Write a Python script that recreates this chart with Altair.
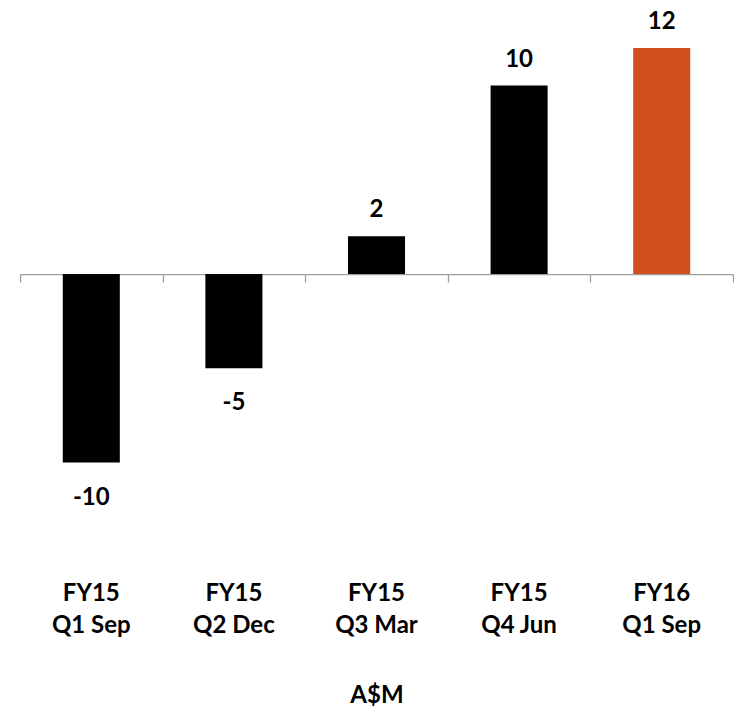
import altair as alt
import pandas as pd

# Quarterly figures (A$M); "|" splits each category label over two lines
quarters = ["FY15|Q1 Sep", "FY15|Q2 Dec", "FY15|Q3 Mar", "FY15|Q4 Jun", "FY16|Q1 Sep"]
values = [-10, -5, 2, 10, 12]
bar_colors = ["#000000", "#000000", "#000000", "#000000", "#D14F1D"]
# category boundaries (slot edges) where the axis tick marks sit
boundaries = [0, 1, 2, 3, 4, 5]

df = pd.DataFrame({"quarter": quarters, "value": values, "color": bar_colors})
# value labels use a plain hyphen for negatives
df["label"] = df["value"].map(lambda v: str(v))
edges = pd.DataFrame({"slot": boundaries})

W, H = 713, 560
Y_MIN, Y_MAX = -15.17, 14.54
AXIS_OFFSET = -(H - H * Y_MAX / (Y_MAX - Y_MIN))  # lift the x axis up to the zero line

FONT = "Lato"
FSIZE = 24
AXIS_GREY = "#9E9E9E"

y = alt.Y("value:Q", scale=alt.Scale(domain=[Y_MIN, Y_MAX], nice=False, zero=False), axis=None)

x_cat = alt.X(
    "quarter:N",
    sort=quarters,
    scale=alt.Scale(paddingInner=0.6, paddingOuter=0.3),
    axis=alt.Axis(
        title="A$M",
        orient="bottom",
        offset=AXIS_OFFSET,
        domain=False,
        ticks=False,
        grid=False,
        labelAngle=0,
        labelExpr="split(datum.label, '|')",
        labelFont=FONT,
        labelFontWeight="bold",
        labelFontSize=FSIZE,
        labelColor="#000000",
        labelLineHeight=32,
        labelBaseline="alphabetic",
        labelPadding=326,
        titleFont=FONT,
        titleFontWeight="bold",
        titleFontSize=FSIZE,
        titleColor="#000000",
        titleBaseline="alphabetic",
        titleY=428,
    ),
)

base = alt.Chart(df)

bars = base.mark_bar().encode(
    x=x_cat,
    y=y,
    y2=alt.datum(0),
    color=alt.Color("color:N", scale=None),
)

pos_labels = base.transform_filter("datum.value >= 0").mark_text(
    font=FONT, fontWeight="bold", fontSize=FSIZE, color="#000000",
    baseline="alphabetic", dy=-19,
).encode(x=alt.X("quarter:N", sort=quarters), y="value:Q", text="label:N")

neg_labels = base.transform_filter("datum.value < 0").mark_text(
    font=FONT, fontWeight="bold", fontSize=FSIZE, color="#000000",
    baseline="alphabetic", dy=42,
).encode(x=alt.X("quarter:N", sort=quarters), y="value:Q", text="label:N")

# Axis line with tick marks between the categories
boundary_axis = alt.Chart(edges).mark_point(opacity=0).encode(
    x=alt.X(
        "slot:Q",
        scale=alt.Scale(domain=[boundaries[0], boundaries[-1]], nice=False, zero=False),
        axis=alt.Axis(
            orient="bottom",
            offset=AXIS_OFFSET,
            values=boundaries,
            labels=False,
            title=None,
            grid=False,
            domainColor=AXIS_GREY,
            domainWidth=1.3,
            tickColor=AXIS_GREY,
            tickWidth=1.3,
            tickSize=8,
        ),
    ),
    y=alt.datum(0),
)

chart = (
    alt.layer(alt.layer(bars, pos_labels, neg_labels), boundary_axis)
    .resolve_scale(x="independent")
    .properties(
        width=W,
        height=H,
        autosize=alt.AutoSizeParams(type="none"),
        padding={"left": 20, "top": 0, "right": 1, "bottom": 147},
        background="#FFFFFF",
    )
    .configure_view(stroke="transparent")
)

chart.save("out.html", embed_options={"renderer": "svg", "actions": False})
